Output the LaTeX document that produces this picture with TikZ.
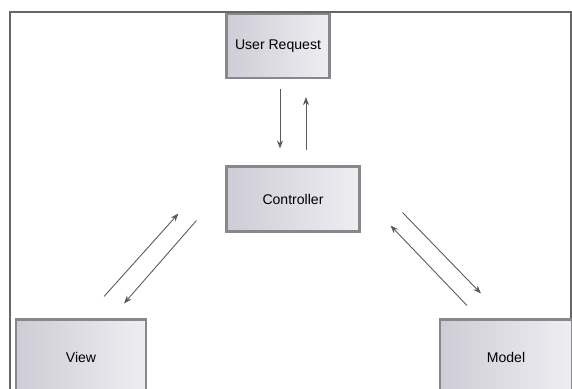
\documentclass[tikz,border=0pt]{standalone}
\usepackage{fontspec}
\setmainfont{Liberation Sans}
\usepackage{tikz}
\usetikzlibrary{arrows.meta}
\definecolor{boxline}{RGB}{135,135,140}
\definecolor{boxleft}{RGB}{206,204,214}
\definecolor{boxright}{RGB}{238,238,242}
\tikzset{
  part/.style={draw=boxline, line width=1.2pt, left color=boxleft, right color=boxright,
               font=\fontsize{8}{10}\selectfont, align=center, inner sep=0pt},
  flow/.style={-{Stealth[length=1.6mm, width=1.2mm]}, draw=black!65, line width=0.5pt},
  frame/.style={draw=black!60, line width=1.3pt}
}

\begin{document}
\begin{tikzpicture}[x=0.2mm, y=-0.2mm]
  \useasboundingbox (0,0) rectangle (572,389);
  \clip (0,0) rectangle (572,389);
  % outer frame
  \draw[frame] (10,12) rectangle (571,400);
  % parts
  \node[part, minimum width=20.6mm, minimum height=12.8mm] (req)  at (278,46)  {User Request};
  \node[part, minimum width=26.6mm, minimum height=13mm]   (ctrl) at (293,199) {Controller};
  \node[part, minimum width=26mm,   minimum height=15mm]   (view) at (81,357)  {View};
  \node[part, minimum width=26.4mm, minimum height=15mm]   (mdl)  at (506,357) {Model};
  % request <-> controller
  \draw[flow] ([shift={(2,10)}]req.south) -- ([shift={(-13,-17)}]ctrl.north);
  \draw[flow] ([shift={(13,-15)}]ctrl.north) -- ([shift={(28,18)}]req.south);
  % view <-> controller
  \draw[flow] ([shift={(-43,-22)}]view.north east) -- ([shift={(-47,-19)}]ctrl.south west);
  \draw[flow] ([shift={(-29,-12)}]ctrl.south west) -- ([shift={(-23,-15)}]view.north east);
  % model <-> controller
  \draw[flow] ([shift={(28,-13)}]mdl.north west) -- ([shift={(30,-7)}]ctrl.south east);
  \draw[flow] ([shift={(42,-20)}]ctrl.south east) -- ([shift={(42,-25)}]mdl.north west);
\end{tikzpicture}
\end{document}
